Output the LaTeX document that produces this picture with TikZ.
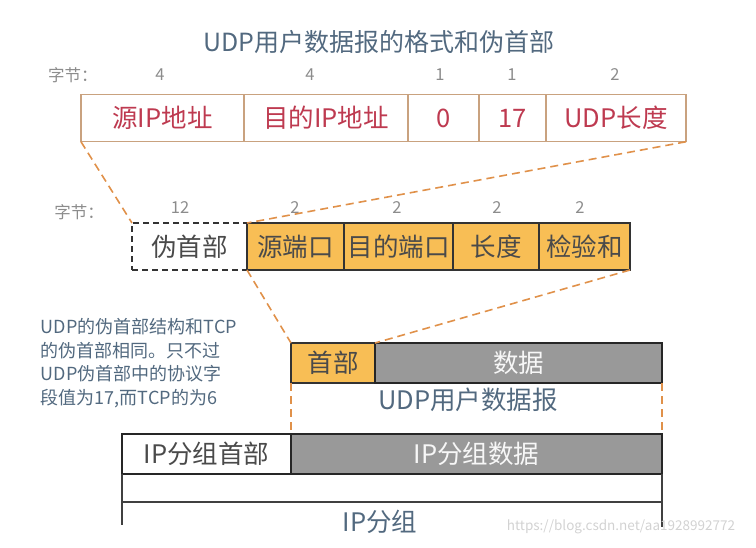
\documentclass[tikz,border=0pt]{standalone}
\usepackage{fontspec}
\setmainfont{Noto Sans CJK SC}
\usepackage{tikz}
\usetikzlibrary{positioning}

\definecolor{cellborder}{HTML}{C9A27F}
\definecolor{fieldred}{HTML}{BE3A50}
\definecolor{udporange}{HTML}{F8BE55}
\definecolor{dashorange}{HTML}{E0914A}
\definecolor{slate}{HTML}{52697F}
\definecolor{datagray}{HTML}{999999}
\definecolor{darktext}{HTML}{4A4A4A}

\begin{document}
\begin{tikzpicture}[x=1pt, y=-1pt,
    every node/.style={inner sep=0pt, outer sep=0pt},
    big/.style={font=\fontsize{25.5}{29}\selectfont},
    num/.style={font=\fontsize{16.5}{19}\selectfont, text=gray!90},
    topcell/.style={draw=cellborder, line width=1.1pt, fill=white, big, text=fieldred, minimum height=47.5},
    pseudocell/.style={draw=black!80, dashed, dash pattern=on 6pt off 4pt, line width=1.5pt, big, text=darktext, minimum height=47},
    udpcell/.style={draw=black!80, line width=1.2pt, fill=udporange, big, text=darktext, minimum height=47},
    datacell/.style={draw=black!85, line width=1.3pt, fill=datagray, big, text=white!94!gray, minimum height=40},
    zoomline/.style={draw=dashorange, line width=1.6pt, dash pattern=on 8pt off 5pt}]
    \useasboundingbox (0,0) rectangle (756,547);

    % Title
    \node[big, text=slate, font=\fontsize{25}{29}\selectfont] (title) at (379,42) {UDP用户数据报的格式和伪首部};

    % Pseudo header fields
    \node[num] (bytes1) at (73,75) {字节：};
    \foreach \x/\n in {160/4, 310/4, 440/1, 512/1, 615/2}
        \node[num] (topnum\x) at (\x,75) {\n};
    \foreach \nm/\xa/\xb/\txt in {
        srcip/81/244/源IP地址,
        dstip/244/408/目的IP地址,
        zero/408/479/0,
        proto/479/546/17,
        udplen/546/686/UDP长度
    } {
        \node[topcell, minimum width=\xb-\xa] (\nm) at ({(\xa+\xb)/2},118) {\txt};
    }

    % UDP header fields
    \node[num] (bytes2) at (79,212) {字节：};
    \foreach \x/\n in {180/12, 295/2, 397/2, 497/2, 580/2}
        \node[num] (midnum\x) at (\x,208) {\n};
    \node[pseudocell, minimum width=115] (pseudo) at (189.5,246.5) {伪首部};
    \foreach \nm/\xa/\xb/\txt in {
        sport/247/344/源端口,
        dport/344/453/目的端口,
        ulen/453/539/长度,
        cksum/539/630/检验和
    } {
        \node[udpcell, minimum width=\xb-\xa] (\nm) at ({(\xa+\xb)/2},246.5) {\txt};
    }

    % Note
    \node[anchor=west, align=left, text=slate, font=\fontsize{18}{23.5}\selectfont] (note) at (41,363)
        {UDP的伪首部结构和TCP\\的伪首部相同。只不过\\UDP伪首部中的协议字\\段值为17,而TCP的为6};

    % UDP datagram
    \node[udpcell, minimum width=84, minimum height=40] (hdr) at (333,363) {首部};
    \node[datacell, minimum width=287] (data) at (518.5,363) {数据};
    \node[big, text=slate] (udplbl) at (468,400) {UDP用户数据报};

    % IP packet
    \node[datacell, fill=white, text=darktext, minimum width=169] (iphdr) at (206.5,454) {IP分组首部};
    \node[datacell, minimum width=371] (ipdata) at (476.5,454) {IP分组数据};
    \draw[black!75, line width=1.1pt]
        (iphdr.south west) -- ++(0,51)
        (ipdata.south east) -- ++(0,53)
        ([yshift=-28]iphdr.south west) -- ([yshift=-28]ipdata.south east);
    \node[big, text=slate] (iplbl) at (380,522) {IP分组};

    % Zoom lines
    \draw[zoomline] (srcip.south west) -- (pseudo.north west);
    \draw[zoomline] (udplen.south east) -- (sport.north west);
    \draw[zoomline] (sport.south west) -- (hdr.north west);
    \draw[zoomline] (cksum.south east) -- (hdr.north east);
    \draw[zoomline] (hdr.south west) -- (ipdata.north west);
    \draw[zoomline] (data.south east) -- (ipdata.north east);

    \node[text=gray!35, font=\fontsize{13.5}{16}\selectfont] (mark) at (621,527) {https://blog.csdn.net/aa1928992772};
\end{tikzpicture}
\end{document}
